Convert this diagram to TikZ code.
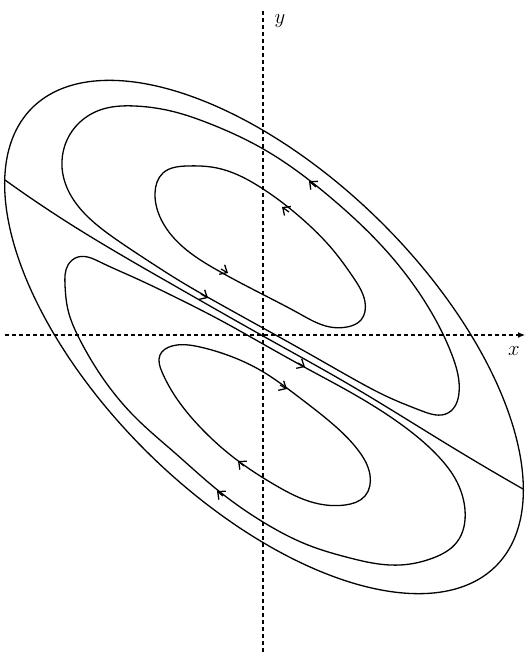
\documentclass[tikz,border=0pt]{standalone}
\usetikzlibrary{arrows.meta,hobby}
\begin{document}
\begin{tikzpicture}[x=1pt,y=-1pt,
  curve/.style={line width=1.3pt, line join=round},
  axisline/.style={line width=1.2pt, dash pattern=on 4pt off 3pt},
  flow/.style={line width=1.3pt, -{Straight Barb[length=6pt,width=11pt]}},
  lab/.style={inner sep=0pt, font=\fontsize{20}{24}\selectfont}
]
\useasboundingbox (0,0) rectangle (525,652);
\fill[white] (0,0) rectangle (525,652);

% axes
\draw[axisline] (263,652) -- (263,10);
\draw[axisline, -{Latex[length=7pt,width=6pt]}] (5,335) -- (525,335);
\node[lab] (ylab) at (280,21) {$y$};
\node[lab] (xlab) at (514,351) {$x$};

% outer curve (tilted oval)
\draw[curve] plot[domain=0:360, samples=160, smooth, variable=\t]
 ({264 + 326*cos(\t)*cos(44.5) - 164*sin(\t)*sin(44.5)},
  {337 + 326*cos(\t)*sin(44.5) + 164*sin(\t)*cos(44.5)});

% separatrix
\draw[curve] plot[hobby] coordinates {
 (5,180) (67,222) (175,286) (263,336) (350,385) (455,449) (523,489)};

% upper middle loop
\draw[curve] plot[closed hobby] coordinates {
 (263,328) (218,303) (175,278) (150,262) (117,240) (87,216) (68,190)
 (62,167) (65,145) (78,124) (100,110) (135,106) (175,112) (208,123)
 (265,150) (330,197) (390,255) (430,310) (452,355) (459,393) (448,413)
 (422,411) (388,397) (350,377) (306,352)};

% lower middle loop
\draw[curve] plot[closed hobby] coordinates {
 (263,344) (306,368) (350,392) (380,410) (410,431) (438,456) (457,482)
 (465,510) (457,542) (433,558) (400,565) (367,562) (350,558) (308,545)
 (263,522) (220,492) (175,453) (133,415) (100,374) (80,340) (68,310)
 (65,285) (68,265) (78,257) (100,262) (133,277) (175,297) (220,320)};

% upper inner loop
\draw[curve] plot[closed hobby] coordinates {
 (155,193) (163,173) (187,166) (217,168) (260,187) (300,217) (333,250)
 (353,277) (365,302) (361,320) (347,327) (330,327) (300,314) (260,293)
 (217,270) (183,247) (160,217)};

% lower inner loop
\draw[curve] plot[closed hobby] coordinates {
 (160,355) (172,346) (200,347) (230,356) (260,370) (300,398) (335,426)
 (358,450) (370,475) (365,496) (345,505) (315,503) (275,485) (233,457)
 (200,427) (175,396) (162,372)};

% flow arrows
\draw[flow] (316,187) -- (309,181);
\draw[flow] (289,212) -- (282,207);
\draw[flow] (221,269) -- (228,273);
\draw[flow] (201,294) -- (208,298);
\draw[flow] (298,363) -- (305,367);
\draw[flow] (280,385) -- (287,389);
\draw[flow] (244,466) -- (238,461);
\draw[flow] (223,496) -- (217,491);
\end{tikzpicture}
\end{document}
